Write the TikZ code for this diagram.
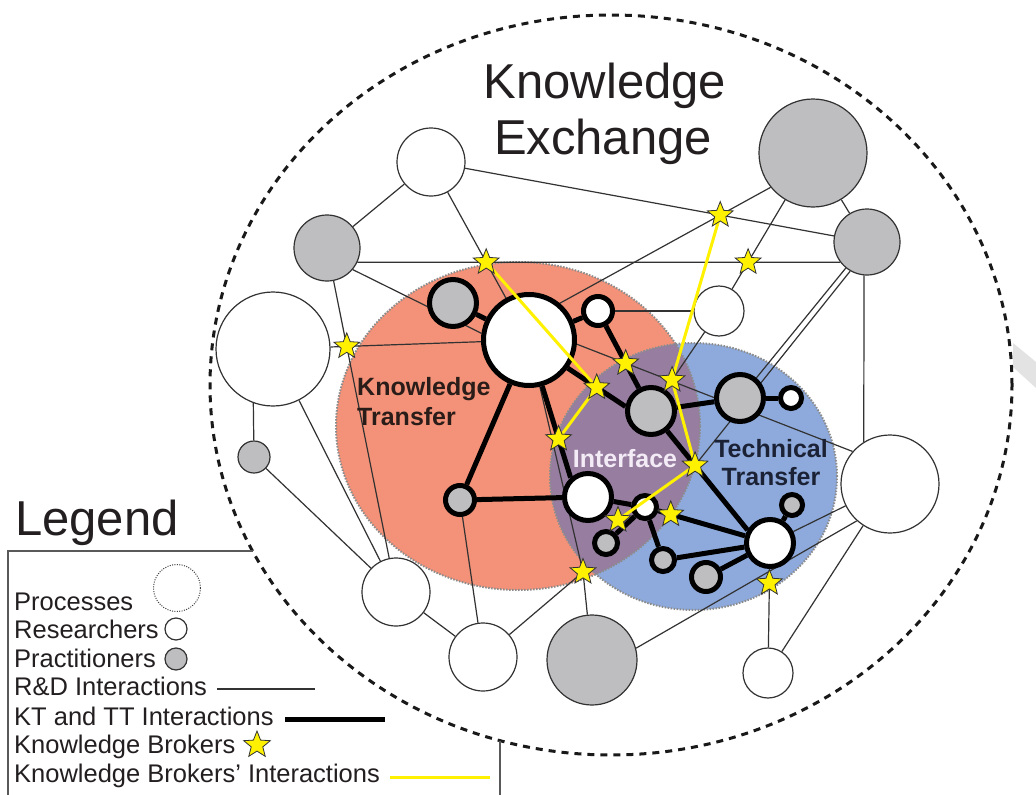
\documentclass[tikz,border=0pt]{standalone}
\usepackage{fontspec}
\setmainfont{Liberation Sans}
\usetikzlibrary{shapes.geometric,calc}
\pgfdeclarelayer{back}
\pgfdeclarelayer{links}
\pgfdeclarelayer{front}
\pgfsetlayers{back,links,main,front}

\definecolor{ktorange}{RGB}{243,146,120}
\definecolor{ttblue}{RGB}{142,170,220}
\definecolor{ifpurple}{RGB}{151,125,160}
\definecolor{pracgray}{RGB}{190,190,192}
\definecolor{brokeryellow}{RGB}{255,241,0}
\definecolor{inktext}{RGB}{35,31,32}
\definecolor{thinline}{RGB}{50,50,50}
\definecolor{zoneborder}{RGB}{140,140,140}
\definecolor{kttext}{RGB}{42,28,24}
\definecolor{tttext}{RGB}{28,34,54}
\definecolor{iftext}{RGB}{243,236,246}

\tikzset{
  rnode/.style={circle, draw=thinline, line width=1.2pt, inner sep=0pt, minimum size=#1},
  res/.style={rnode=#1, fill=white},
  prac/.style={rnode=#1, fill=pracgray},
  knode/.style={circle, draw=black, line width=5pt, inner sep=0pt, minimum size=#1},
  kres/.style={knode=#1, fill=white},
  kprac/.style={knode=#1, fill=pracgray},
  rdlink/.style={draw=thinline, line width=1.2pt},
  ktlink/.style={draw=black, line width=5pt},
  kblink/.style={draw=brokeryellow, line width=3pt},
  broker/.style={star, star points=5, star point ratio=2.3, fill=brokeryellow,
    draw=black!80, line width=0.8pt, inner sep=0pt, minimum size=#1},
  broker/.default=27pt,
  zone/.style={draw=zoneborder, line width=2pt, dash pattern=on 1.5pt off 1.5pt},
  lbl/.style={inner sep=0pt, anchor=base west, text=inktext, font=\fontsize{25.5}{28}\selectfont},
  zonetext/.style={inner sep=0pt, anchor=base, font=\bfseries\fontsize{25}{28}\selectfont},
}

\begin{document}
\begin{tikzpicture}[x=1pt,y=-1pt]
\useasboundingbox (0,0) rectangle (1036,795);

% ---------- actors of R&D (thin outline) ----------
\node[res=68pt]   (N1) at (431,162) {};
\node[prac=66pt]  (N2) at (327,248) {};
\node[res=114pt]  (N3) at (273,349) {};
\node[prac=32pt]  (Gl) at (254,457) {};
\node[res=68pt]   (W1) at (396,592) {};
\node[res=68pt]   (W2) at (483,657) {};
\node[prac=90pt]  (GB) at (592,660) {};
\node[res=50pt]   (W3) at (768,673) {};
\node[res=98pt]   (NR) at (890,484) {};
\node[prac=108pt] (N4) at (813,153) {};
\node[prac=66pt]  (N5) at (867,242) {};
\node[res=50pt]   (N6) at (719,311) {};

% ---------- actors of KT / TT (thick outline) ----------
\node[kres=91pt]  (BW)   at (529,340) {};
\node[kprac=47pt] (Gtl)  at (453,303) {};
\node[kres=29pt]  (Wsm)  at (598,311) {};
\node[kprac=29pt] (Gbl)  at (460,500) {};
\node[kres=47pt]  (Wint) at (588,497) {};
\node[kprac=47pt] (GC)   at (651,411) {};
\node[kprac=47pt] (GR)   at (740,398) {};
\node[kres=21pt]  (Wsr)  at (791,398) {};
\node[kres=23pt]  (Wsm2) at (645,507) {};
\node[kprac=23pt] (Gs1)  at (606,543) {};
\node[kprac=23pt] (G1)   at (663,560) {};
\node[kprac=29pt] (G2)   at (706,577) {};
\node[kres=47pt]  (Wtt)  at (770,543) {};
\node[kprac=21pt] (Gs2)  at (792,505) {};

% ---------- attachment points off the centres ----------
\coordinate (h1)  at (N2.-25);
\coordinate (h2)  at (N5.217);
\coordinate (n2a) at (N2.-40);
\coordinate (bwd) at (BW.172);
\coordinate (n3a) at (N3.250);
\coordinate (n4a) at (N4.219);
\coordinate (bwa) at (BW.50);
\coordinate (n5a) at (N5.265);
\coordinate (nra) at (NR.122);
\coordinate (n5b) at (N5.240);
\coordinate (bwb) at (BW.-5);
\coordinate (nrb) at (NR.139);
\coordinate (gba) at (GB.15);
\coordinate (nrc) at (NR.228);
\coordinate (bwc) at (BW.-74);
\coordinate (wia) at (Wint.132);
\coordinate (bwe) at (BW.-36);
\coordinate (gcb) at (GC.170);
\coordinate (wtb) at (Wtt.150);

% ---------- broker positions ----------
\coordinate (s1) at (intersection of h1--h2 and N1.center--BW.center);
\coordinate (s2) at (intersection of N2.center--W1.center and N3.center--BW.center);
\coordinate (s3) at (intersection of N1.center--N5.center and n4a--bwa);
\coordinate (s4) at (intersection of h1--h2 and N4.center--N6.center);
\coordinate (sa) at ($(bwe)!(597,387)!(gcb)$);
\coordinate (sb) at ($(bwc)!(555,440)!(wia)$);
\coordinate (sc) at ($(N6.center)!(675,382)!(GC.center)$);
\coordinate (sd) at ($(GC.center)!(693,467)!(wtb)$);
\coordinate (se) at (618,520);
\coordinate (sf) at (intersection of bwb--nrb and Wsm.center--GC.center);
\coordinate (sg) at ($(Wsm2.center)!(670,517)!(Wtt.center)$);
\coordinate (sh) at (583,572);
\coordinate (si) at ($(W3.center)!(767,583)!(Wtt.center)$);

% ---------- zones ----------
\begin{pgfonlayer}{back}
  \fill[white] (0,0) rectangle (1036,795);
  \fill[black!11] (1013,343) -- (1036,362) -- (1036,388) -- (1013,367) -- cycle;
  \fill[ktorange] (518,426) ellipse [x radius=182pt, y radius=164pt];
  \fill[ttblue] (693.5,476.5) ellipse [x radius=143.5pt, y radius=133.5pt];
  \begin{scope}
    \clip (518,426) ellipse [x radius=182pt, y radius=164pt];
    \fill[ifpurple] (693.5,476.5) ellipse [x radius=143.5pt, y radius=133.5pt];
  \end{scope}
  \draw[zone] (518,426) ellipse [x radius=182pt, y radius=164pt];
  \draw[zone] (693.5,476.5) ellipse [x radius=143.5pt, y radius=133.5pt];
  \draw[black!90, line width=3pt, dash pattern=on 7pt off 6pt]
    (611,385) ellipse [x radius=401pt, y radius=370pt];
\end{pgfonlayer}

% ---------- interactions ----------
\begin{pgfonlayer}{links}
  % R&D interactions
  \draw[rdlink] (N1) -- (N2);
  \draw[rdlink] (N1) -- (N5);
  \draw[rdlink] (N1) -- (BW);
  \draw[rdlink] (h1) -- (h2);
  \draw[rdlink] (n2a) -- (bwd);
  \draw[rdlink] (N2) -- (W1);
  \draw[rdlink] (N3) -- (BW);
  \draw[rdlink] (n3a) -- (Gl);
  \draw[rdlink] (N3) -- (W1);
  \draw[rdlink] (Gl) -- (W1);
  \draw[rdlink] (W1) -- (W2);
  \draw[rdlink] (Gbl) -- (W2);
  \draw[rdlink] (W2) -- (sh);
  \draw[rdlink] (BW) -- (sh) -- (GB);
  \draw[rdlink] (gba) -- (nrc);
  \draw[rdlink] (Wtt) -- (NR);
  \draw[rdlink] (W3) -- (NR);
  \draw[rdlink] (W3) -- (Wtt);
  \draw[rdlink] (n5a) -- (nra);
  \draw[rdlink] (N5) -- (GR);
  \draw[rdlink] (n5b) -- (sd);
  \draw[rdlink] (n4a) -- (bwa);
  \draw[rdlink] (N4) -- (N6);
  \draw[rdlink] (N4) -- (N5);
  \draw[rdlink] (Wsm) -- (N6);
  \draw[rdlink] (N6) -- (GC);
  \draw[rdlink] (bwb) -- (nrb);
  % KT and TT interactions
  \draw[ktlink] (BW) -- (Gtl);
  \draw[ktlink] (BW) -- (Wsm);
  \draw[ktlink] (BW) -- (Gbl);
  \draw[ktlink] (bwc) -- (wia);
  \draw[ktlink] (bwe) -- (gcb);
  \draw[ktlink] (Wsm) -- (GC);
  \draw[ktlink] (Gbl) -- (Wint);
  \draw[ktlink] (GC) -- (GR);
  \draw[ktlink] (GR) -- (Wsr);
  \draw[ktlink] (GC) -- (wtb);
  \draw[ktlink] (Wint) -- (Wsm2);
  \draw[ktlink] (Gs1) -- (Wsm2);
  \draw[ktlink] (Wsm2) -- (G1);
  \draw[ktlink] (Wsm2) -- (Wtt);
  \draw[ktlink] (G1) -- (Wtt);
  \draw[ktlink] (G2) -- (Wtt);
  \draw[ktlink] (Wtt) -- (Gs2);
\end{pgfonlayer}

% ---------- knowledge brokers ----------
\begin{pgfonlayer}{front}
  \draw[kblink] (s1) -- (sa) -- (sb);
  \draw[kblink] (s3) -- (sc) -- (sd) -- (se);
  \foreach \s/\n in {s1/S1,s2/S2,s3/S3,s4/S4,sa/Sa,sb/Sb,sc/Sc,sd/Sd,se/Se,sf/Sf,sg/Sg,sh/Sh,si/Si}
    \node[broker] (\n) at (\s) {};
\end{pgfonlayer}

% ---------- titles ----------
\node[inner sep=0pt, anchor=base, text=inktext, font=\fontsize{49}{56}\selectfont]
  (kx1) at (605,98) {Knowledge};
\node[inner sep=0pt, anchor=base, text=inktext, font=\fontsize{49}{56}\selectfont]
  (kx2) at (603,154) {Exchange};
\node[zonetext, anchor=base west, text=kttext] (kt1) at (357,395) {Knowledge};
\node[zonetext, anchor=base west, text=kttext] (kt2) at (357,425) {Transfer};
\node[zonetext, text=iftext] (if1) at (625,467) {Interface};
\node[zonetext, text=tttext] (tt1) at (771,457) {Technical};
\node[zonetext, text=tttext] (tt2) at (771,485) {Transfer};

% ---------- legend ----------
\node[inner sep=0pt, anchor=base west, text=inktext, font=\fontsize{49}{56}\selectfont]
  (lgt) at (15,535) {Legend};
\coordinate (lb1) at (8,795);
\coordinate (lb2) at (8,551);
\coordinate (lb3) at (253,551);
\coordinate (lb4) at (500,740.5);
\coordinate (lb5) at (500,795);
\draw[black!65, line width=1.3pt] (lb1) -- (lb2) -- (lb3);
\draw[black!65, line width=1.3pt] (lb4) -- (lb5);

\node[lbl] (lg1) at (14,610) {Processes};
\node[lbl] (lg2) at (14,638) {Researchers};
\node[lbl] (lg3) at (14,667) {Practitioners};
\node[lbl] (lg4) at (14,695) {R\&D Interactions};
\node[lbl] (lg5) at (14,725) {KT and TT Interactions};
\node[lbl] (lg6) at (14,753) {Knowledge Brokers};
\node[lbl] (lg7) at (14,782) {Knowledge Brokers’ Interactions};

\node[circle, draw=black!75, line width=1pt, dash pattern=on 1pt off 1.4pt,
  inner sep=0pt, minimum size=47pt] (lgproc) at (177,588) {};
\node[res=22pt]  (lgres)  at (176,629) {};
\node[prac=22pt] (lgprac) at (176,659) {};
\coordinate (lr1) at (217,689);
\coordinate (lr2) at (315,689);
\draw[rdlink] (lr1) -- (lr2);
\coordinate (lk1) at (285,719);
\coordinate (lk2) at (385,719);
\draw[ktlink] (lk1) -- (lk2);
\node[broker=28pt] (lgstar) at (257,745) {};
\coordinate (ly1) at (390,777);
\coordinate (ly2) at (490,777);
\draw[kblink] (ly1) -- (ly2);
\end{tikzpicture}
\end{document}
